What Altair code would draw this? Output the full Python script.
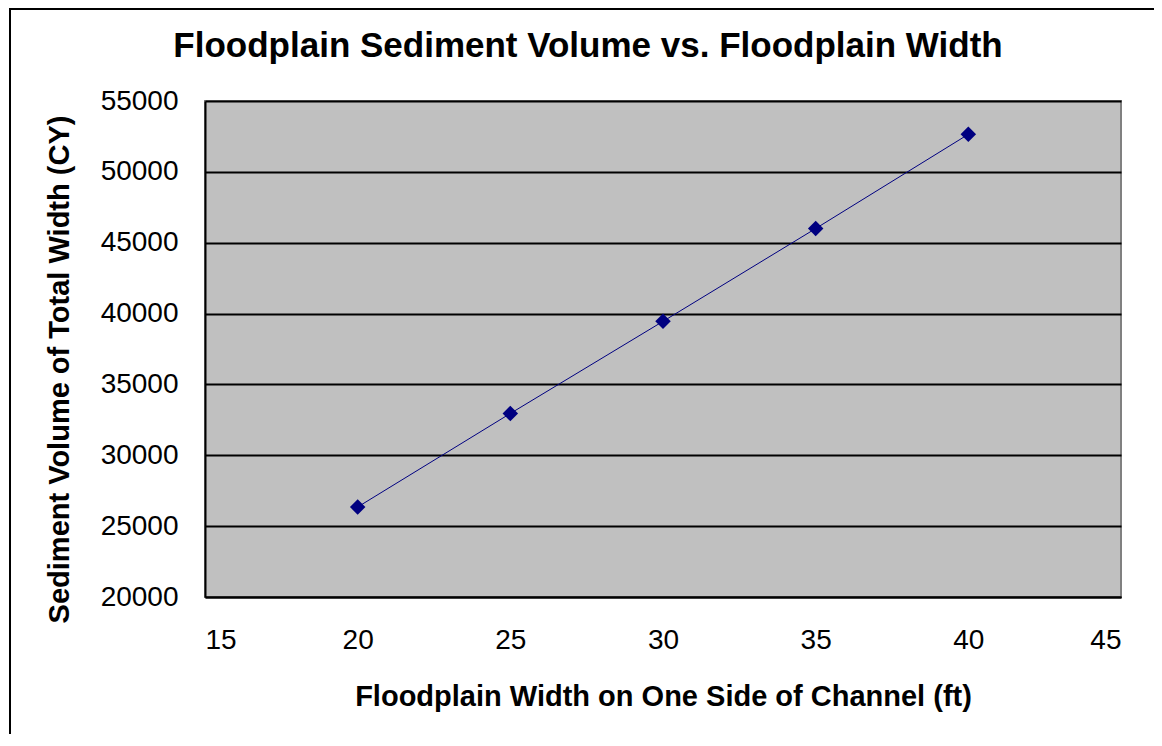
import altair as alt
import pandas as pd

width_ft = [20, 25, 30, 35, 40]
volume_cy = [26350, 32950, 39450, 46000, 52650]

df = pd.DataFrame({"w": width_ft, "v": volume_cy})

FONT = "Liberation Sans"
NAVY = "#000080"

x_enc = alt.X("w:Q", scale=alt.Scale(domain=[15, 45], nice=False, zero=False),
              axis=alt.Axis(title="Floodplain Width on One Side of Channel (ft)",
                            values=[15, 20, 25, 30, 35, 40, 45], grid=False,
                            ticks=False, domainColor="black", domainWidth=2,
                            labelPadding=29, titlePadding=28))
y_enc = alt.Y("v:Q", scale=alt.Scale(domain=[20000, 55000], nice=False, zero=False),
              axis=alt.Axis(title="Sediment Volume of Total Width (CY)",
                            values=list(range(20000, 55001, 5000)), grid=True,
                            gridColor="black", gridWidth=2, ticks=False,
                            domainColor="black", domainWidth=2,
                            labelPadding=27, titlePadding=26, format="d",
                            titleY=268))

border = alt.Chart(df).mark_rect(fill=None, stroke="black", strokeWidth=2, clip=False).encode(
    x=alt.value(-195), x2=alt.value(952), y=alt.value(-92), y2=alt.value(637)
)

line = alt.Chart(df).mark_line(color=NAVY, strokeWidth=1).encode(x=x_enc, y=y_enc)
points = alt.Chart(df).mark_point(shape="diamond", filled=True, color=NAVY, size=240, opacity=1).encode(x="w:Q", y="v:Q")

chart = alt.layer(line, points, border).properties(
    width=916, height=496,
    background="white",
    autosize=alt.AutoSizeParams(type="none"),
    padding={"left": 197, "top": 93, "right": 33, "bottom": 137},
    title=alt.Title("Floodplain Sediment Volume vs. Floodplain Width", fontSize=35,
                    font=FONT, fontWeight="bold", color="black", offset=38,
                    anchor="middle", frame="group", dx=-75, dy=94),
).configure_view(fill="#C0C0C0", stroke="#808080", strokeWidth=2).configure_axis(
    labelFont=FONT, labelFontSize=28, labelColor="black",
    titleFont=FONT, titleFontSize=29, titleFontWeight="bold", titleColor="black",
)

chart.save("out.html", embed_options={"renderer": "svg", "actions": False})
